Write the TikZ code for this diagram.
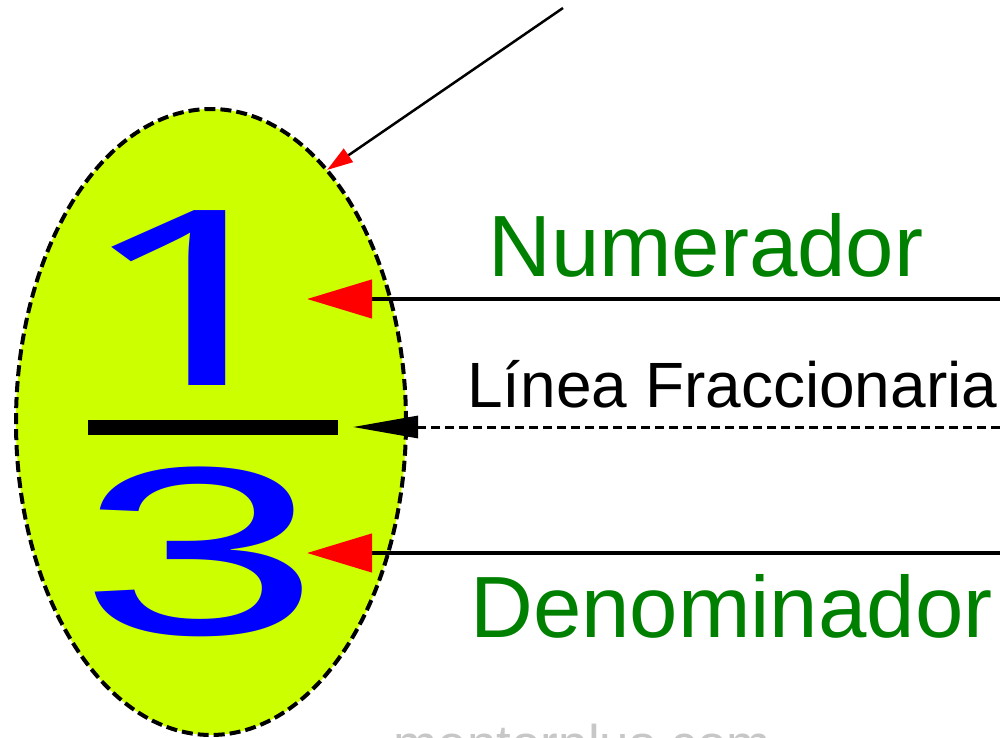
\documentclass[tikz,border=0pt]{standalone}
\usepackage{fontspec}
\setmainfont{Liberation Sans}
\newfontfamily\onefont{Noto Sans}
\usetikzlibrary{shapes.geometric,arrows.meta}
\definecolor{lime}{RGB}{204,255,0}
\definecolor{labgreen}{RGB}{0,128,0}
\definecolor{digitblue}{RGB}{0,0,255}
\tikzset{
  oval/.style={ellipse, draw=black, fill=lime, line width=4pt, dash pattern=on 11pt off 5pt, minimum width=390pt, minimum height=626pt, inner sep=0pt},
  biglabel/.style={anchor=base west, inner sep=0pt, text=labgreen, font=\fontsize{87}{90}\selectfont},
  midlabel/.style={anchor=base west, inner sep=0pt, text=black, font=\fontsize{64}{66}\selectfont},
  digit/.style={anchor=base, inner sep=0pt, text=digitblue},
  barbox/.style={fill=black, draw=none, minimum width=250pt, minimum height=15pt, inner sep=0pt},
  redarrow/.style={line width=4.5pt, -{Triangle[length=65pt, width=38pt, red]}},
  dasharrow/.style={line width=3pt, dash pattern=on 9pt off 5pt, -{Triangle[length=65pt, width=22pt, black]}},
  toparrow/.style={line width=2.5pt, -{Triangle[length=26pt, width=16pt, red]}},
  watermark/.style={anchor=base west, inner sep=0pt, text=black!22, font=\fontsize{53}{55}\selectfont}
}
\begin{document}
\begin{tikzpicture}[x=1pt, y=-1pt]
\clip (0,0) rectangle (1005,738);
\useasboundingbox (0,0) rectangle (1005,738);
\node[oval] (frac) at (211,422) {};
\node[digit, font=\onefont\bfseries\fontsize{245}{250}\selectfont] (one) at (196,385) {\scalebox{1.75}[1]{1}};
\node[digit, font=\fontsize{240}{250}\selectfont] (three) at (200,634) {\scalebox{1.82}[1]{3}};
\node[barbox] (bar) at (213,427.5) {};
\node[biglabel] (numlab) at (488,277) {Numerador};
\node[midlabel] (linlab) at (467,407) {Línea Fraccionaria};
\node[biglabel] (denlab) at (470,637) {Denominador};
\node[watermark] (wm) at (393.5,762) {mentorplus.com};
\coordinate (numR) at (1000,299);
\coordinate (numT) at (307,299);
\coordinate (linR) at (1000,427);
\coordinate (linT) at (353,427);
\coordinate (denR) at (1000,553);
\coordinate (denT) at (307,553);
\coordinate (topS) at (563,8);
\coordinate (topT) at (327,170);
\draw[redarrow] (numR) -- (numT);
\draw[dasharrow] (linR) -- (linT);
\draw[redarrow] (denR) -- (denT);
\draw[toparrow] (topS) -- (topT);
\end{tikzpicture}
\end{document}
